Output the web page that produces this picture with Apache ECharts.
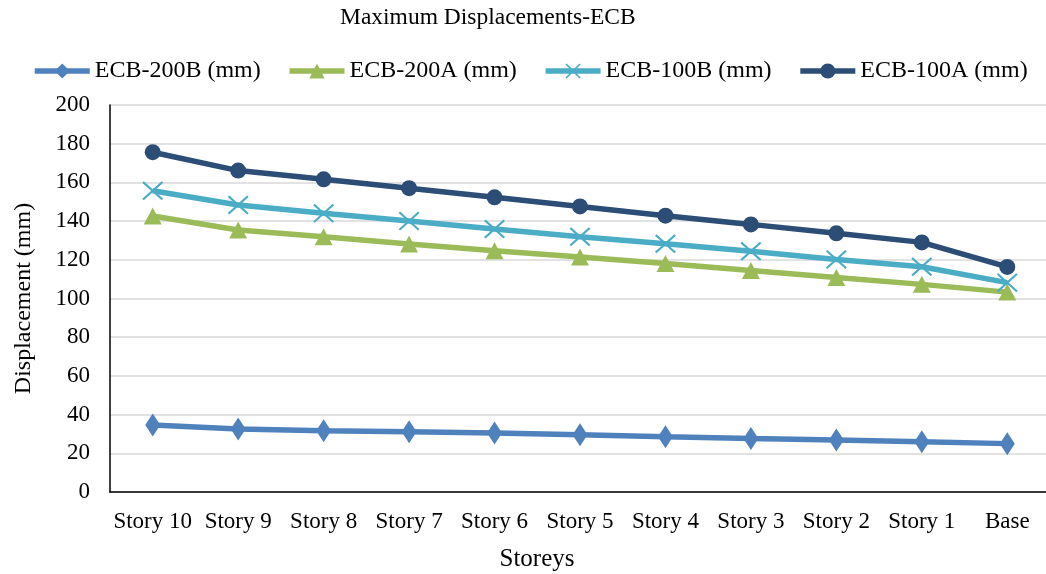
<!DOCTYPE html>
<html>
<head>
<meta charset="utf-8">
<script src="https://cdn.jsdelivr.net/npm/echarts@6/dist/echarts.min.js"></script>
<style>html,body{margin:0;padding:0;background:#fff}#c{width:1046px;height:574px}</style>
</head>
<body>
<div id="c"></div>
<script>
const categories = ['Story 10','Story 9','Story 8','Story 7','Story 6','Story 5','Story 4','Story 3','Story 2','Story 1','Base'];
const ecb200B = [34.6, 32.6, 31.7, 31.2, 30.5, 29.6, 28.6, 27.7, 26.9, 26.0, 25.0];
const ecb200A = [142.6, 135.4, 131.9, 128.2, 124.7, 121.5, 118.1, 114.5, 110.9, 107.3, 103.3];
const ecb100B = [155.7, 148.3, 144.0, 140.0, 135.9, 131.9, 128.3, 124.4, 120.2, 116.4, 108.2];
const ecb100A = [175.6, 166.1, 161.6, 157.0, 152.3, 147.6, 142.8, 138.3, 133.7, 129.0, 116.3];
const yTicks = {min: 0, max: 200, interval: 20};

const FONT = 'Liberation Serif';
const X_PATH = 'path://M0,1.5 L1.5,0 L10,8.5 L18.5,0 L20,1.5 L11.5,10 L20,18.5 L18.5,20 L10,11.5 L1.5,20 L0,18.5 L8.5,10 Z';

function mk(name, data, color, symbol, size) {
  return {
    name: name, type: 'line', data: data, symbol: symbol, symbolSize: size,
    lineStyle: {color: color, width: 5.5},
    itemStyle: {color: color},
    emphasis: {disabled: true}, animation: false
  };
}

const chart = echarts.init(document.getElementById('c'), null, {renderer: 'canvas'});
chart.setOption({
  animation: false,
  backgroundColor: '#fff',
  title: {
    text: 'Maximum Displacements-ECB', left: 340, top: 6, padding: 0,
    textStyle: {fontFamily: FONT, fontSize: 23.5, fontWeight: 'normal', color: '#000'}
  },
  legend: {
    top: 59, left: 32, padding: 0, itemWidth: 55, itemHeight: 19, itemGap: 26,
    lineStyle: {width: 5.5},
    textStyle: {fontFamily: FONT, fontSize: 24, color: '#000'},
    data: ['ECB-200B (mm)', 'ECB-200A (mm)', 'ECB-100B (mm)', 'ECB-100A (mm)']
  },
  grid: {left: 110, top: 105, width: 940, height: 387, containLabel: false, outerBoundsMode: 'none'},
  xAxis: {
    type: 'category', data: categories, boundaryGap: true,
    name: 'Storeys', nameLocation: 'middle', nameGap: 55,
    nameTextStyle: {fontFamily: FONT, fontSize: 25, color: '#000', padding: [0, 86, 0, 0]},
    axisLine: {lineStyle: {color: '#000', width: 1.5}},
    axisTick: {show: false},
    axisLabel: {fontFamily: FONT, fontSize: 23, color: '#000', margin: 18, interval: 0}
  },
  yAxis: {
    type: 'value', min: yTicks.min, max: yTicks.max, interval: yTicks.interval,
    name: 'Displacement (mm)', nameLocation: 'middle', nameGap: 74, nameRotate: 90,
    nameTextStyle: {fontFamily: FONT, fontSize: 24, color: '#000'},
    axisLine: {show: true, lineStyle: {color: '#000', width: 1.5}},
    axisTick: {show: false},
    axisLabel: {fontFamily: FONT, fontSize: 23, color: '#000', margin: 20},
    splitLine: {lineStyle: {color: '#d9d9d9', width: 1.5}}
  },
  series: [
    mk('ECB-200B (mm)', ecb200B, '#4f81bd', 'diamond', [15, 23]),
    mk('ECB-200A (mm)', ecb200A, '#9bbb59', 'triangle', [18, 17]),
    mk('ECB-100B (mm)', ecb100B, '#4bacc6', X_PATH, [21, 19]),
    mk('ECB-100A (mm)', ecb100A, '#2c4d75', 'circle', 16)
  ]
});
</script>
</body>
</html>
